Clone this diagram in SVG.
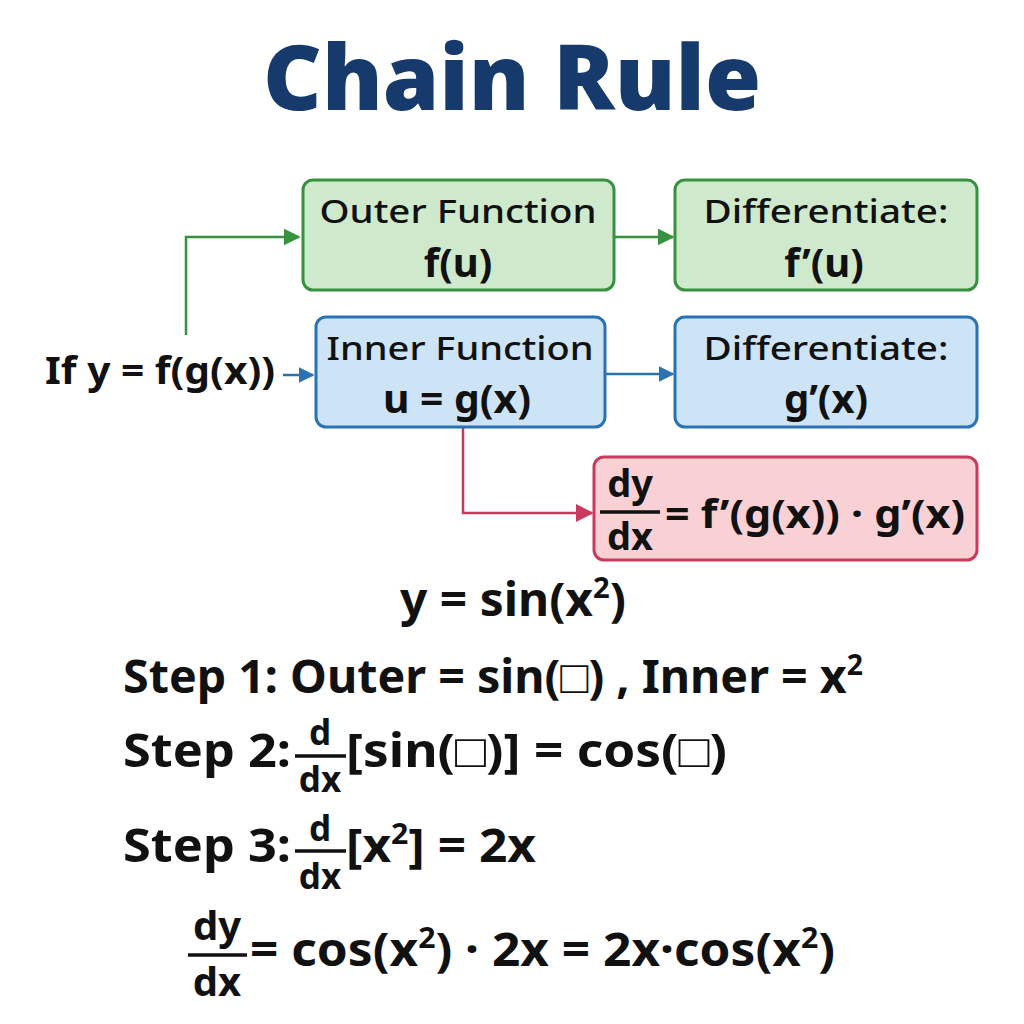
<svg xmlns="http://www.w3.org/2000/svg" width="1024" height="1024" viewBox="0 0 1024 1024">
<style>
.t{font-family:"Noto Sans","Liberation Sans",sans-serif;fill:#111;}
.b{font-weight:700;}
.m{font-weight:500;}
.g{fill:#cfe9cc;stroke:#37913f;stroke-width:3;}
.bl{fill:#cde3f6;stroke:#2a73b3;stroke-width:3;}
.r{fill:#f9d1d5;stroke:#c93a5d;stroke-width:3;}
.cg{stroke:#37913f;stroke-width:2.5;fill:none;}
.cb{stroke:#2a73b3;stroke-width:2.5;fill:none;}
.cr{stroke:#c93a5d;stroke-width:2.5;fill:none;}
.fl{stroke:#111;stroke-width:3.5;}
</style>
<defs>
<marker id="ag" viewBox="0 0 10 10" refX="9" refY="5" markerWidth="17" markerHeight="17" orient="auto" markerUnits="userSpaceOnUse"><path d="M0,0 L10,5 L0,10 z" fill="#37913f"/></marker>
<marker id="ab" viewBox="0 0 10 10" refX="9" refY="5" markerWidth="16" markerHeight="16" orient="auto" markerUnits="userSpaceOnUse"><path d="M0,0 L10,5 L0,10 z" fill="#2a73b3"/></marker>
<marker id="ar" viewBox="0 0 10 10" refX="9" refY="5" markerWidth="18" markerHeight="18" orient="auto" markerUnits="userSpaceOnUse"><path d="M0,0 L10,5 L0,10 z" fill="#c93a5d"/></marker>
</defs>
<rect width="1024" height="1024" fill="#fff"/>
<text class="t" x="512" y="110" font-size="90" font-weight="900" text-anchor="middle" style="fill:#163a6b" textLength="498" lengthAdjust="spacingAndGlyphs">Chain Rule</text>

<g id="connectors">
<path class="cg" d="M186,335 V237 H299" style="marker-end:url(#ag)"/>
<path class="cg" d="M614,237 H673" style="marker-end:url(#ag)"/>
<path class="cb" d="M283,375 H313" style="marker-end:url(#ab)"/>
<path class="cb" d="M605,374 H673" style="marker-end:url(#ab)"/>
<path class="cr" d="M463,428 V513 H592" style="marker-end:url(#ar)"/>
</g>

<g id="start">
<text class="t b" x="45" y="384" font-size="38" textLength="230" lengthAdjust="spacingAndGlyphs">If y = f(g(x))</text>
</g>

<g id="outer">
<rect class="g" x="303" y="180" width="311" height="110" rx="10"/>
<text class="t m" x="458" y="223" font-size="33" text-anchor="middle" textLength="277" lengthAdjust="spacingAndGlyphs">Outer Function</text>
<text class="t b" x="458" y="277" font-size="40" text-anchor="middle">f(u)</text>
</g>
<g id="diff-outer">
<rect class="g" x="675" y="180" width="302" height="110" rx="10"/>
<text class="t m" x="826" y="223" font-size="33" text-anchor="middle" textLength="245" lengthAdjust="spacingAndGlyphs">Differentiate:</text>
<text class="t b" x="824" y="277" font-size="40" text-anchor="middle">f’(u)</text>
</g>
<g id="inner">
<rect class="bl" x="316" y="317" width="289" height="110" rx="10"/>
<text class="t m" x="460" y="360" font-size="33" text-anchor="middle" textLength="267" lengthAdjust="spacingAndGlyphs">Inner Function</text>
<text class="t b" x="457" y="413" font-size="40" text-anchor="middle" textLength="148" lengthAdjust="spacingAndGlyphs">u = g(x)</text>
</g>
<g id="diff-inner">
<rect class="bl" x="675" y="317" width="302" height="110" rx="10"/>
<text class="t m" x="826" y="360" font-size="33" text-anchor="middle" textLength="245" lengthAdjust="spacingAndGlyphs">Differentiate:</text>
<text class="t b" x="826" y="413" font-size="40" text-anchor="middle">g’(x)</text>
</g>
<g id="result">
<rect class="r" x="594" y="457" width="383" height="103" rx="10"/>
<text class="t b" x="630" y="497" font-size="38" text-anchor="middle">dy</text>
<line class="fl" x1="600" y1="512" x2="660" y2="512"/>
<text class="t b" x="630" y="550" font-size="38" text-anchor="middle">dx</text>
<text class="t b" x="665" y="528" font-size="40" textLength="300" lengthAdjust="spacingAndGlyphs">= f’(g(x)) · g’(x)</text>
</g>

<g id="example">
<text class="t b" x="400" y="616" font-size="46" textLength="226" lengthAdjust="spacingAndGlyphs">y = sin(x<tspan dy="-18" font-size="28">2</tspan><tspan dy="18">)</tspan></text>
<text class="t b" x="123" y="693" font-size="46" textLength="740" lengthAdjust="spacingAndGlyphs">Step 1: Outer = sin(□) , Inner = x<tspan dy="-18" font-size="28">2</tspan></text>
<text class="t b" x="123" y="767" font-size="46" textLength="168" lengthAdjust="spacingAndGlyphs">Step 2:</text>
<text class="t b" x="320" y="745" font-size="35" text-anchor="middle">d</text>
<line class="fl" x1="295" y1="756" x2="346" y2="756"/>
<text class="t b" x="320" y="792" font-size="35" text-anchor="middle">dx</text>
<text class="t b" x="346" y="767" font-size="46" textLength="381" lengthAdjust="spacingAndGlyphs">[sin(□)] = cos(□)</text>
<text class="t b" x="123" y="862" font-size="46" textLength="168" lengthAdjust="spacingAndGlyphs">Step 3:</text>
<text class="t b" x="320" y="841" font-size="35" text-anchor="middle">d</text>
<line class="fl" x1="295" y1="851" x2="346" y2="851"/>
<text class="t b" x="320" y="889" font-size="35" text-anchor="middle">dx</text>
<text class="t b" x="346" y="862" font-size="46" textLength="190" lengthAdjust="spacingAndGlyphs">[x<tspan dy="-18" font-size="28">2</tspan><tspan dy="18">] = 2x</tspan></text>
<text class="t b" x="217" y="940" font-size="40" text-anchor="middle">dy</text>
<line class="fl" x1="188" y1="955" x2="247" y2="955"/>
<text class="t b" x="217" y="996" font-size="40" text-anchor="middle">dx</text>
<text class="t b" x="250" y="966" font-size="46" textLength="585" lengthAdjust="spacingAndGlyphs">= cos(x<tspan dy="-18" font-size="28">2</tspan><tspan dy="18">) · 2x = 2x·cos(x</tspan><tspan dy="-18" font-size="28">2</tspan><tspan dy="18">)</tspan></text>
</g>
</svg>
